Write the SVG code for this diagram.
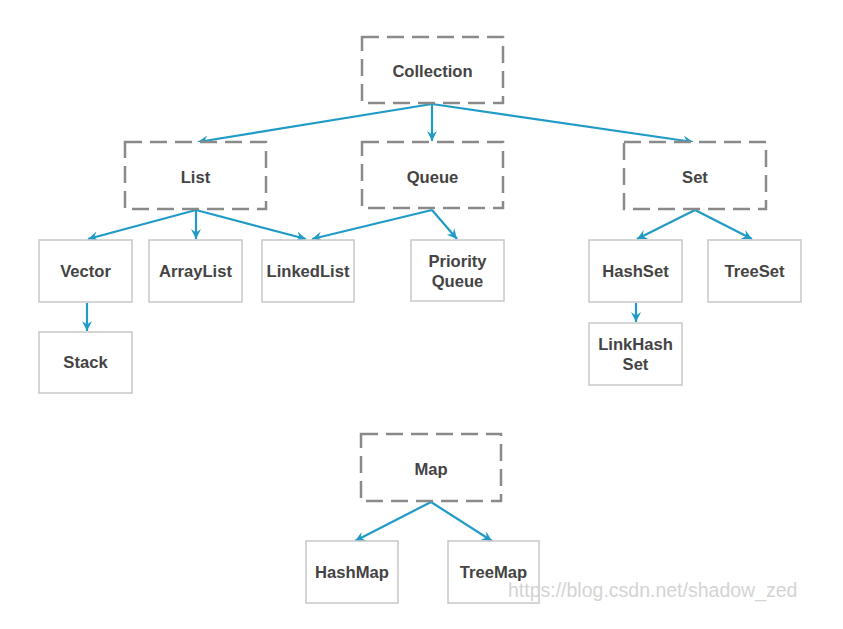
<svg xmlns="http://www.w3.org/2000/svg" width="843" height="629" viewBox="0 0 843 629">
<defs>
<style>
.dash{fill:#ffffff;stroke:#8a8a8a;stroke-width:2.5;stroke-dasharray:17 8}
.box{fill:#ffffff;stroke:#c8c8c8;stroke-width:1.5}
.lbl{font-family:"Liberation Sans",Arial,sans-serif;font-weight:bold;font-size:16.6px;fill:#444444;text-anchor:middle}
.edge{stroke:#1f9bc6;stroke-width:2.2;fill:none;marker-end:url(#ah)}
.wm{font-family:"Liberation Sans",Arial,sans-serif;font-size:19.5px;fill:#d4d4d4}
</style>
<marker id="ah" markerUnits="userSpaceOnUse" markerWidth="13" markerHeight="13" refX="10" refY="5.5" orient="auto" viewBox="0 0 13 11">
<path d="M0,0.5 L10,5.5 L0,10.5 L3.5,5.5 Z" fill="#1f9bc6"/>
</marker>
</defs>
<rect width="843" height="629" fill="#ffffff"/>
<g id="connectors">
<line class="edge" x1="432" y1="104" x2="198" y2="142"/>
<line class="edge" x1="432" y1="104" x2="432" y2="141"/>
<line class="edge" x1="432" y1="104" x2="693" y2="142"/>
<line class="edge" x1="196" y1="210" x2="88" y2="239"/>
<line class="edge" x1="196" y1="210" x2="196" y2="239"/>
<line class="edge" x1="196" y1="210" x2="306" y2="239"/>
<line class="edge" x1="432" y1="210" x2="312" y2="239"/>
<line class="edge" x1="432" y1="210" x2="457" y2="239"/>
<line class="edge" x1="695" y1="210" x2="637" y2="239"/>
<line class="edge" x1="695" y1="210" x2="752" y2="239"/>
<line class="edge" x1="87" y1="303" x2="87" y2="331"/>
<line class="edge" x1="636" y1="303" x2="636" y2="322"/>
<line class="edge" x1="431" y1="502" x2="355" y2="541"/>
<line class="edge" x1="431" y1="502" x2="492" y2="541"/>
</g>
<g id="collection"><rect class="dash" x="362" y="37" width="141" height="66"/><text class="lbl" x="432.5" y="77">Collection</text></g>
<g id="list"><rect class="dash" x="125" y="142" width="141" height="67"/><text class="lbl" x="195.5" y="183">List</text></g>
<g id="queue"><rect class="dash" x="362" y="142" width="141" height="66"/><text class="lbl" x="432.5" y="183">Queue</text></g>
<g id="set"><rect class="dash" x="624" y="142" width="142" height="67"/><text class="lbl" x="695" y="183">Set</text></g>
<g id="vector"><rect class="box" x="39" y="240" width="93" height="62"/><text class="lbl" x="85.5" y="277">Vector</text></g>
<g id="arraylist"><rect class="box" x="149" y="240" width="93" height="62"/><text class="lbl" x="195.5" y="277">ArrayList</text></g>
<g id="linkedlist"><rect class="box" x="262" y="240" width="92" height="62"/><text class="lbl" x="308" y="277">LinkedList</text></g>
<g id="priorityqueue"><rect class="box" x="411" y="240" width="93" height="61"/><text class="lbl" x="457.5" y="267">Priority</text><text class="lbl" x="457.5" y="287">Queue</text></g>
<g id="hashset"><rect class="box" x="589" y="240" width="93" height="62"/><text class="lbl" x="635.5" y="277">HashSet</text></g>
<g id="treeset"><rect class="box" x="708" y="240" width="93" height="62"/><text class="lbl" x="754.5" y="277">TreeSet</text></g>
<g id="stack"><rect class="box" x="39" y="332" width="93" height="61"/><text class="lbl" x="85.5" y="368">Stack</text></g>
<g id="linkhashset"><rect class="box" x="589" y="323" width="93" height="62"/><text class="lbl" x="635.5" y="350">LinkHash</text><text class="lbl" x="635.5" y="370">Set</text></g>
<g id="map"><rect class="dash" x="361" y="434" width="140" height="67"/><text class="lbl" x="431" y="475">Map</text></g>
<g id="hashmap"><rect class="box" x="306" y="541" width="92" height="62"/><text class="lbl" x="352" y="578">HashMap</text></g>
<g id="treemap"><rect class="box" x="448" y="541" width="91" height="62"/><text class="lbl" x="493.5" y="578">TreeMap</text></g>
<text class="wm" x="508" y="597">https://blog.csdn.net/shadow_zed</text>
</svg>
